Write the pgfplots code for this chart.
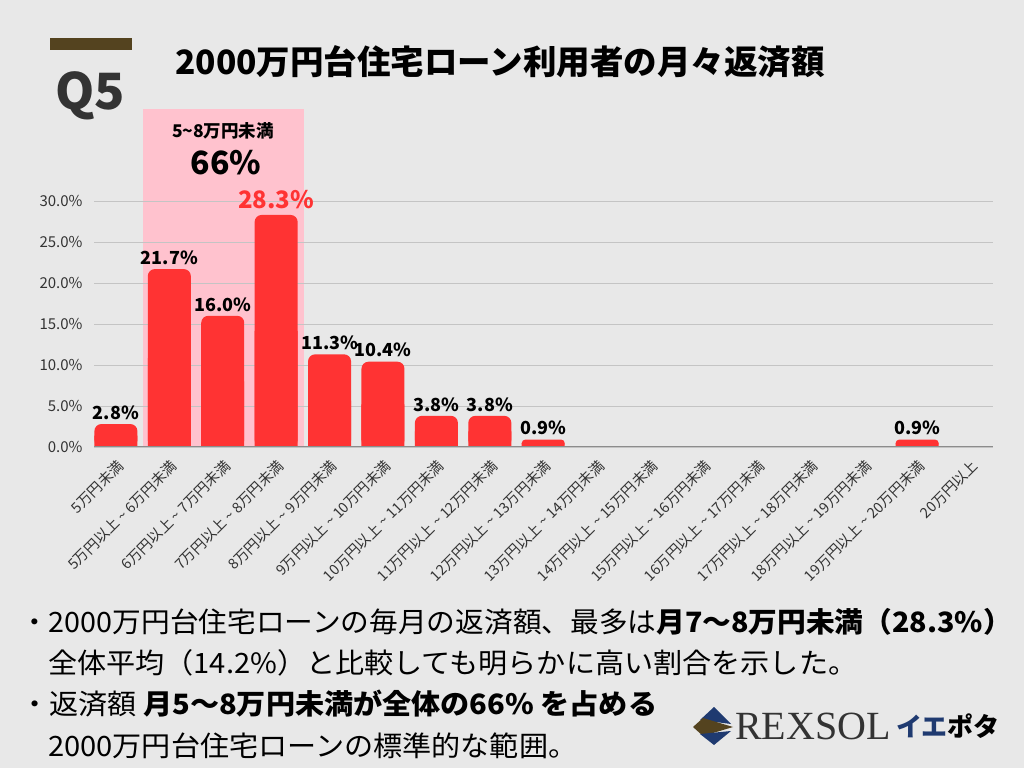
\documentclass[border=0pt]{standalone}
\usepackage{fontspec}
\setmainfont{Noto Sans CJK JP}
\newfontfamily\bodyfont[FakeStretch=1.04]{Noto Sans CJK JP}
\newfontfamily\bodyfontb[FakeStretch=1.025]{Noto Sans CJK JP}
\newfontfamily\rexfont{Liberation Serif}
\usepackage{pgfplots}
\pgfplotsset{compat=1.18}
\definecolor{bg}{HTML}{E8E8E8}
\definecolor{barred}{HTML}{FF3333}
\definecolor{pinkbox}{HTML}{FFC2CE}
\definecolor{brownbar}{HTML}{54431F}
\definecolor{navy}{HTML}{1F3A70}
\definecolor{gridc}{HTML}{C4C4C4}
\definecolor{txt}{HTML}{333333}
\newcommand{\tl}{ \textasciitilde{} }
\begin{document}
\begin{tikzpicture}
\useasboundingbox (0pt,0pt) rectangle (1024pt,768pt);
\fill[bg] (0pt,0pt) rectangle (1024pt,768pt);
\fill[brownbar] (50pt,730pt) rectangle (132pt,718pt);
\node[font=\fontsize{50}{56}\selectfont\bfseries, text=txt] at (90pt,672pt) {Q5};
\node[font=\fontsize{33.5}{40}\selectfont\bfseries] at (500pt,706pt) {2000万円台住宅ローン利用者の月々返済額};
\fill[pinkbox] (143pt,659pt) rectangle (304pt,321pt);
\begin{axis}[
  at={(94pt,321pt)}, anchor=south west, scale only axis,
  width=899pt, height=337.8pt,
  xmin=-0.41, xmax=16.42, ymin=0, ymax=41.2,
  clip=false,
  axis line style={draw=none},
  major tick length=0pt,
  ytick={0,5,10,15,20,25,30},
  ymajorgrids, grid style={gridc, line width=0.8pt},
  /pgf/number format/assume math mode=true,
  yticklabel={\pgfmathprintnumber[fixed,fixed zerofill,precision=1]{\tick}\%},
  yticklabel style={font=\fontsize{15}{17}\selectfont, text=txt, xshift=-8pt},
  xtick={0,...,16},
  xticklabels={5万円未満,5万円以上\tl 6万円未満,6万円以上\tl 7万円未満,7万円以上\tl 8万円未満,8万円以上\tl 9万円未満,9万円以上\tl 10万円未満,10万円以上\tl 11万円未満,11万円以上\tl 12万円未満,12万円以上\tl 13万円未満,13万円以上\tl 14万円未満,14万円以上\tl 15万円未満,15万円以上\tl 16万円未満,16万円以上\tl 17万円未満,17万円以上\tl 18万円未満,18万円以上\tl 19万円未満,19万円以上\tl 20万円未満,20万円以上},
  xticklabel style={yshift=-10pt, font=\fontsize{14.5}{16}\selectfont, text=txt, rotate=45, anchor=north east, inner sep=1pt},
  every node near coord/.append style={font=\fontsize{18}{20}\selectfont\bfseries, text=black, yshift=1pt},
]
% main bars
\addplot[ybar, bar width=43pt, bar shift=0pt, fill=barred, draw=none, rounded corners=7pt,
  nodes near coords={\pgfmathprintnumber[fixed,fixed zerofill,precision=1]{\pgfplotspointmeta}\%}]
  table {
x y
0 2.8
1 21.7
2 16.0
4 11.3
5 10.4
6 3.8
7 3.8
};
\addplot[ybar, bar width=43pt, bar shift=0pt, fill=barred, draw=none, rounded corners=7pt]
  table {
x y
3 28.3
};
\addplot[ybar, bar width=43pt, bar shift=0pt, fill=barred, draw=none, rounded corners=3.5pt,
  nodes near coords={\pgfmathprintnumber[fixed,fixed zerofill,precision=1]{\pgfplotspointmeta}\%}]
  table {
x y
8 0.9
15 0.9
};
% square bottoms
\addplot[ybar, bar width=43pt, bar shift=0pt, fill=barred, draw=none]
  table {
x y
0 1.4
1 10.85
2 8.0
3 14.15
4 5.65
5 5.2
6 1.9
7 1.9
8 0.45
15 0.45
};
\node[font=\fontsize{24}{26}\selectfont\bfseries, text=barred, anchor=south] at (axis cs:3,28.6) {28.3\%};
\draw[color=black!45, line width=1pt] (rel axis cs:0,0) -- (rel axis cs:1,0);
\end{axis}
\node[font=\fontsize{17.5}{19}\selectfont\bfseries] at (223pt,637pt) {5\textasciitilde 8万円未満};
\node[font=\fontsize{32}{36}\selectfont\bfseries] at (226pt,605pt) {66\%};
% bottom text
\begin{scope}[every node/.style={anchor=west, inner sep=0pt, font=\bodyfont\fontsize{28}{30}\selectfont}]
\node[font=\bodyfontb\fontsize{28}{30}\selectfont] at (20pt,146pt) {・2000万円台住宅ローンの毎月の返済額、最多は\textbf{月7〜8万円未満（28.3\%）}};
\node at (48pt,105pt) {全体平均（14.2\%）と比較しても明らかに高い割合を示した。};
\node at (20pt,64pt) {・返済額 \textbf{月5〜8万円未満が全体の66\% を占める}};
\node at (48pt,22pt) {2000万円台住宅ローンの標準的な範囲。};
\end{scope}
% logo
\fill[navy] (714pt,61pt) -- (700pt,48pt) -- (731pt,44pt) -- cycle;
\fill[brownbar] (693pt,41pt) -- (703pt,50pt) -- (733pt,41pt) -- (703pt,32pt) -- cycle;
\fill[navy] (700pt,34pt) -- (714pt,23pt) -- (731pt,37pt) -- cycle;
\node[font=\rexfont\fontsize{40}{44}\selectfont, text=black!80, anchor=west, inner sep=0pt] at (735pt,42pt) {REXSOL};
\node[font=\fontsize{26}{28}\selectfont\bfseries, anchor=west, inner sep=0pt] at (896pt,42pt) {\textcolor{navy}{イエ}ポタ};
\end{tikzpicture}
\end{document}
